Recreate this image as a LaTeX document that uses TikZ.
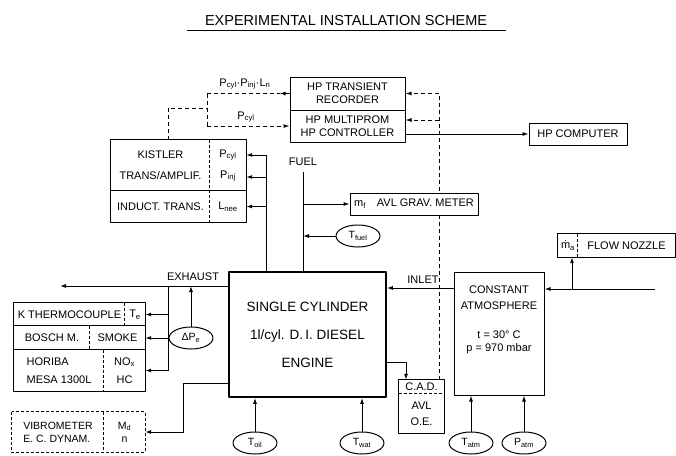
\documentclass[tikz,border=0pt]{standalone}
\usepackage{fontspec}
\setmainfont{Liberation Sans}
\usetikzlibrary{arrows.meta,positioning,backgrounds,shapes.geometric}
\tikzset{
    cell/.style={rectangle, inner sep=0pt, align=center, font=\fontsize{11}{13}\selectfont},
    box/.style={cell, draw, line width=1pt},
    sensor/.style={ellipse, draw, line width=1pt, minimum width=44pt, minimum height=22pt, inner sep=0pt, font=\fontsize{10.5}{12}\selectfont},
    lbl/.style={font=\fontsize{11}{13}\selectfont, inner sep=1pt},
    wire/.style={line width=1pt},
    flow/.style={wire, -{Latex[length=6pt,width=4pt]}},
    sig/.style={wire, dash pattern=on 4pt off 3pt},
    sigflow/.style={sig, -{Latex[length=6pt,width=4pt]}},
    divider/.style={line width=0.8pt, dash pattern=on 3pt off 2pt},
}

\begin{document}
\begin{tikzpicture}[x=1pt, y=-1pt, line join=round]
    \useasboundingbox (0,0) rectangle (676,455);

    % title
    \node[font=\fontsize{14.5}{16}\selectfont] (title) at (346,21) {EXPERIMENTAL INSTALLATION SCHEME};
    \draw[wire] (187,30) -- (506,30);

    % HP data acquisition
    \node[box, minimum width=115pt, minimum height=33pt] (rec) at (347.5,93.5) {HP TRANSIENT\\RECORDER};
    \node[box, minimum width=115pt, minimum height=32pt] (ctrl) at (347.5,126) {HP MULTIPROM\\HP CONTROLLER};
    \node[box, minimum width=98pt, minimum height=22pt] (comp) at (578,134) {HP COMPUTER};
    \draw[flow] ([yshift=-8pt]ctrl.east) -- (comp.west);

    % Kistler amplifier block
    \node[cell, minimum width=99pt, minimum height=51pt, font=\fontsize{11}{21}\selectfont] (kist) at (160.5,165.5) {KISTLER\\TRANS/AMPLIF.};
    \node[cell, minimum width=36pt, minimum height=51pt, font=\fontsize{11}{21}\selectfont] (kout) at (228,165.5) {P\textsubscript{cyl}\\P\textsubscript{inj}};
    \node[cell, minimum width=99pt, minimum height=31pt] (induct) at (160.5,206.5) {INDUCT. TRANS.};
    \node[cell, minimum width=36pt, minimum height=31pt] (lnee) at (228,206.5) {L\textsubscript{nee}};
    \draw[wire] (kist.north west) rectangle (lnee.south east);
    \draw[wire] (induct.north west) -- (lnee.north east);
    \draw[divider] (kout.north west) -- (lnee.south west);

    % signals to HP
    \coordinate (ksig) at ([xshift=7.5pt]kist.north);
    \coordinate (dj) at (207,108);
    \node[lbl] (sigall) at (245,84) {P\textsubscript{cyl}·P\textsubscript{inj}·L\textsubscript{n}};
    \node[lbl] (sigcyl) at (246,117) {P\textsubscript{cyl}};
    \draw[sig] (ksig) |- (dj);
    \draw[sig] (rec.west -| dj) -- (ctrl.west -| dj);
    \draw[sig] (rec.west -| dj) -- ([xshift=-10pt]rec.west);
    \draw[flow] (rec.west) -- ([xshift=-10pt]rec.west);
    \draw[sigflow] (ctrl.west -| dj) -- (ctrl.west);

    % engine
    \node[cell, draw, line width=1.8pt, minimum width=157pt, minimum height=125pt, font=\fontsize{13.5}{28}\selectfont] (eng) at (307.5,334.5) {SINGLE CYLINDER\\1l/cyl. D.\,I. DIESEL\\ENGINE};

    % fuel
    \node[lbl] (fuel) at (303,162) {FUEL};
    \coordinate (fuelin) at (303,172);
    \draw[wire] (fuelin) -- (fuelin |- eng.north);
    \node[box, fill=white, minimum width=128pt, minimum height=22pt] (avl) at (414,204) {m\textsubscript{f}\quad AVL GRAV. METER};
    \draw[flow] (fuelin |- avl.west) -- (avl.west);
    \node[sensor] (tfuel) at (358,236) {T\textsubscript{fuel}};
    \draw[flow] (tfuel.west) -- (tfuel.west -| fuelin);

    % Kistler pick-ups
    \coordinate (kbus) at (266,155);
    \draw[wire] (kbus) -- (kbus |- eng.north);
    \draw[flow] (kbus) -- (kbus -| kout.east);
    \draw[flow] (kbus |- 0,177) -- (kout.east |- 0,177);
    \draw[flow] (kbus |- lnee.east) -- (lnee.east);

    % exhaust analysers
    \coordinate (exh) at (eng.west |- 0,286);
    \coordinate (exend) at (60,286);
    \node[lbl] (exlbl) at (193,277) {EXHAUST};
    \draw[flow] (exh) -- (exend);
    \node[cell, minimum width=111pt, minimum height=23pt] (ktc) at (69.5,314.5) {K THERMOCOUPLE};
    \node[cell, minimum width=20pt, minimum height=23pt] (te) at (135,314.5) {T\textsubscript{e}};
    \node[cell, minimum width=76pt, minimum height=24pt] (bosch) at (52,338) {BOSCH M.};
    \node[cell, minimum width=55pt, minimum height=24pt] (smoke) at (117.5,338) {SMOKE};
    \node[cell, align=left, minimum width=90pt, minimum height=41pt, font=\fontsize{11}{18}\selectfont] (horiba) at (59,370.5) {HORIBA\\MESA 1300L};
    \node[cell, minimum width=41pt, minimum height=41pt, font=\fontsize{11}{18}\selectfont] (nox) at (124.5,370.5) {NO\textsubscript{x}\\HC};
    \draw[wire] (ktc.north west) rectangle (nox.south east);
    \draw[wire] (bosch.north west) -- (smoke.north east);
    \draw[wire] (horiba.north west) -- (nox.north east);
    \draw[divider] (te.north west) -- (te.south west);
    \draw[divider] (smoke.north west) -- (smoke.south west);
    \draw[divider] (nox.north west) -- (nox.south west);
    \coordinate (ebus) at (168,286);
    \draw[wire] (ebus) -- (ebus |- nox.east);
    \draw[flow] (ebus |- te.east) -- (te.east);
    \draw[flow] (ebus |- smoke.east) -- (smoke.east);
    \draw[flow] (ebus |- nox.east) -- (nox.east);
    \node[sensor] (dpe) at (191,338) {ΔP\textsubscript{e}};
    \draw[flow] (dpe.north) -- (dpe.north |- ebus);

    % dynamometer
    \node[cell, align=left, minimum width=92pt, minimum height=40pt, font=\fontsize{10.5}{13}\selectfont] (vib) at (58,432) {VIBROMETER\\E. C. DYNAM.};
    \node[cell, minimum width=41pt, minimum height=40pt, font=\fontsize{10.5}{13}\selectfont] (md) at (124.5,432) {M\textsubscript{d}\\n};
    \draw[wire, densely dashed] (vib.north west) rectangle (md.south east);
    \draw[divider] (md.north west) -- (md.south west);
    \coordinate (engout) at (eng.west |- 0,383);
    \coordinate (vturn) at (183,383);
    \draw[flow] (engout) -- (vturn) |- (md.east);

    % intake air
    \node[box, minimum width=90pt, minimum height=123pt] (atm) at (499,333.5) {};
    \node[lbl, align=center, font=\fontsize{11}{16}\selectfont] (atmname) at (499,298) {CONSTANT\\ATMOSPHERE};
    \node[lbl, align=center, font=\fontsize{11}{13}\selectfont] (atmcond) at (499,342.5) {t = 30° C\\p = 970 mbar};
    \coordinate (inl) at (atm.west |- 0,288);
    \draw[flow] (inl) -- (inl -| eng.east);
    \node[lbl] (inlbl) at (423,280) {INLET};
    \node[cell, minimum width=20pt, minimum height=23pt] (ma) at (568,245.5) {\.{m}\textsubscript{a}};
    \node[cell, minimum width=97pt, minimum height=23pt] (nozzle) at (626.5,245.5) {FLOW NOZZLE};
    \draw[wire] (ma.north west) rectangle (nozzle.south east);
    \draw[divider] (nozzle.north west) -- (nozzle.south west);
    \coordinate (airin) at (655,289);
    \coordinate (nzj) at (572,289);
    \draw[flow] (airin) -- (airin -| atm.east);
    \draw[flow] (nzj) -- (nzj |- ma.south);

    % combustion analyser
    \node[cell, minimum width=45pt, minimum height=14pt] (cad) at (421.5,387) {C.A.D.};
    \node[cell, minimum width=45pt, minimum height=39pt, font=\fontsize{11}{16}\selectfont] (avlo) at (421.5,413.5) {AVL\\O.E.};
    \draw[wire] (cad.north west) rectangle (avlo.south east);
    \draw[divider] (avlo.north west) -- (avlo.north east);
    \coordinate (engcad) at (eng.east |- 0,362);
    \draw[flow] (engcad) -| ([xshift=-15.5pt]cad.north);
    \coordinate (cadsig) at ([xshift=-5pt]cad.north east);
    \begin{scope}[on background layer]
        \draw[sigflow] (cadsig) |- (rec.east);
        \draw[sigflow] (cadsig |- 0,120) -- ([yshift=6pt]ctrl.east);
    \end{scope}

    % temperatures and pressures
    \node[sensor] (toil) at (255,443) {T\textsubscript{oil}};
    \node[sensor] (twat) at (362,443) {T\textsubscript{wat}};
    \node[sensor] (tatm) at (471,443) {T\textsubscript{atm}};
    \node[sensor] (patm) at (524,443) {P\textsubscript{atm}};
    \draw[flow] (toil.north) -- (toil.north |- eng.south);
    \draw[flow] (twat.north) -- (twat.north |- eng.south);
    \draw[flow] (tatm.north) -- (tatm.north |- atm.south);
    \draw[flow] (patm.north) -- (patm.north |- atm.south);
\end{tikzpicture}
\end{document}
